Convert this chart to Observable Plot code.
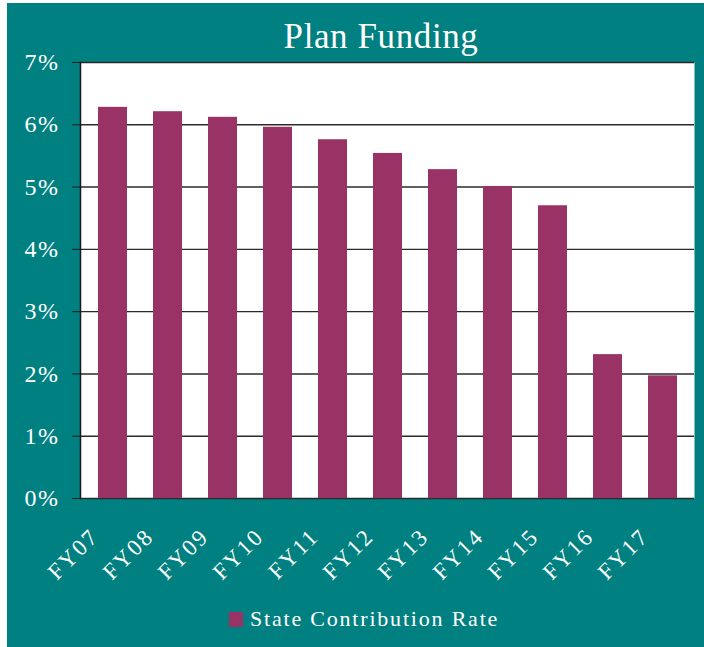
<!DOCTYPE html>
<html>
<head>
<meta charset="utf-8">
<script src="https://cdn.jsdelivr.net/npm/d3@7"></script>
<script src="https://cdn.jsdelivr.net/npm/@observablehq/plot@0.6"></script>
<style>
  html, body { margin: 0; padding: 0; background: #ffffff; }
  #card {
    position: absolute; left: 7px; top: 3px; width: 697px; height: 644px;
    background: #008080; overflow: hidden;
    font-family: "Liberation Serif", serif; color: #ffffff;
  }
  #title {
    position: absolute; left: 374px; top: 16px; transform: translateX(-50%);
    white-space: nowrap; font-size: 35px; line-height: 35px; letter-spacing: 0.6px;
  }
  #chart { position: absolute; left: 0; top: 0; }
  #chart svg text { letter-spacing: 1.5px; }
  #chart svg text.xlab { letter-spacing: 2.2px; }
  #legend-swatch {
    position: absolute; left: 222px; top: 609px; width: 14px; height: 15px;
  }
  #legend-text {
    position: absolute; left: 243px; top: 605px; font-size: 22px; line-height: 22px;
    letter-spacing: 1.8px; white-space: nowrap;
  }
</style>
</head>
<body>
<div id="card">
  <div id="title"></div>
  <div id="chart"></div>
  <div id="legend-swatch"></div>
  <div id="legend-text"></div>
</div>
<script>
const chartTitle = "Plan Funding";
const seriesName = "State Contribution Rate";
const years = ["FY07", "FY08", "FY09", "FY10", "FY11", "FY12", "FY13", "FY14", "FY15", "FY16", "FY17"];
const rates = [6.28, 6.21, 6.12, 5.96, 5.76, 5.54, 5.28, 5.01, 4.70, 2.31, 1.97];
const yTicks = [0, 1, 2, 3, 4, 5, 6, 7];
const barColor = "#993366";

const data = years.map((year, i) => ({year, value: rates[i]}));

document.getElementById("title").textContent = chartTitle;
document.getElementById("legend-text").textContent = seriesName;
document.getElementById("legend-swatch").style.background = barColor;

const chart = Plot.plot({
  width: 697,
  height: 590,
  marginLeft: 73,
  marginRight: 10,
  marginTop: 59,
  marginBottom: 95,
  style: {background: "transparent", color: "white", fontFamily: "Liberation Serif, serif", overflow: "visible"},
  x: {domain: years, paddingInner: 0.48, paddingOuter: 0.23, axis: null},
  y: {domain: [0, 7], axis: null},
  marks: [
    Plot.frame({fill: "white", stroke: null}),
    Plot.ruleY(yTicks, {stroke: "#2a2a2a", strokeWidth: 1.4}),
    Plot.barY(data, {x: "year", y: "value", fill: barColor}),
    Plot.frame({anchor: "left", stroke: "#1a1a1a", strokeWidth: 1.5}),
    Plot.axisY({
      ticks: yTicks, tickSize: 8, tickPadding: 13,
      tickFormat: d => d + "%", fontSize: 24,
      stroke: "#1a1a1a", fill: "white", label: null
    }),
    Plot.text(years, {
      x: d => d, text: d => d, frameAnchor: "bottom",
      rotate: -45, textAnchor: "end", lineAnchor: "middle",
      dx: -18, dy: 34, fill: "white", fontSize: 23, className: "xlab"
    })
  ]
});
chart.querySelectorAll("g[aria-label='text'] text").forEach(t => t.classList.add("xlab"));
document.getElementById("chart").appendChild(chart);
</script>
</body>
</html>
